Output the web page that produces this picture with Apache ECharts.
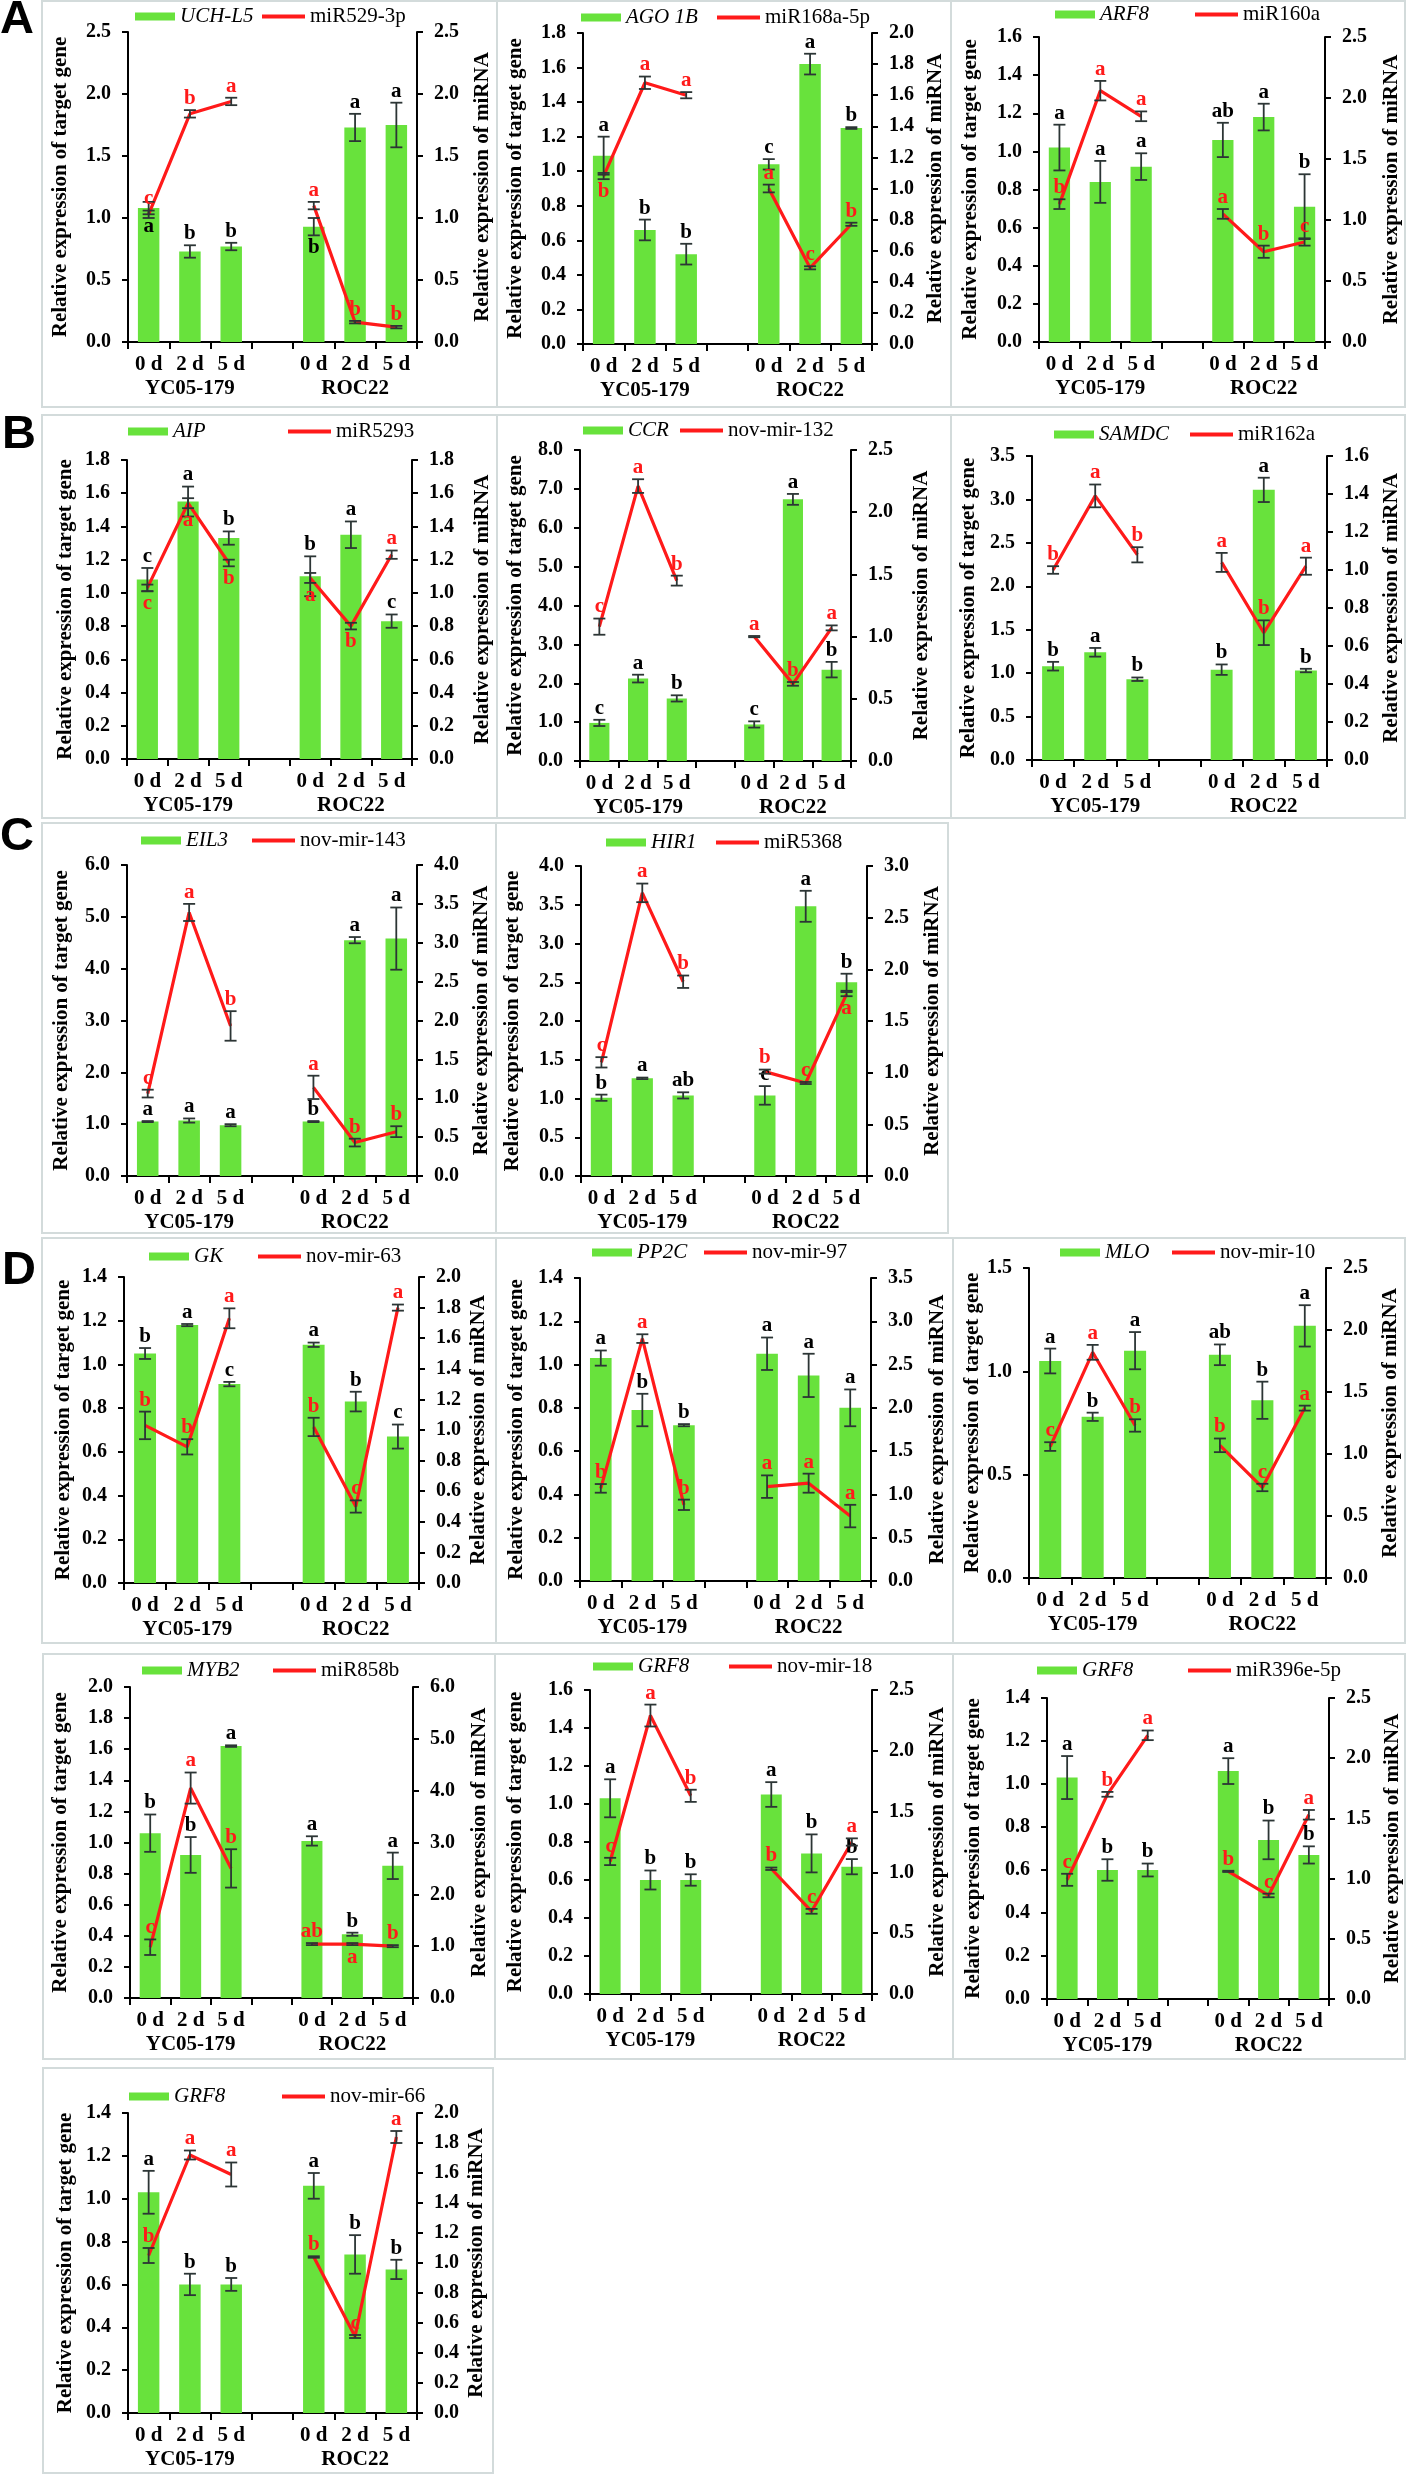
<!DOCTYPE html>
<html><head><meta charset="utf-8">
<script src="https://cdn.jsdelivr.net/npm/echarts@6/dist/echarts.min.js"></script>
<style>html,body{margin:0;padding:0;background:#fff}#c{width:1408px;height:2475px}</style>
</head><body><div id="c"></div>
<script>
// ---------------- DATA ----------------
const days = ['0 d', '2 d', '5 d'];
const cultivars = ['YC05-179', 'ROC22'];
const titleGene = 'Relative expression of target gene';
const titleMiR = 'Relative expression of miRNA';

// scale arrays: [left max, left step, right max, right step]
// A1
const A1_names = ['UCH-L5', 'miR529-3p'];
const A1_barVal = [1.08, 0.73, 0.77, 0.93, 1.73, 1.75];
const A1_barSd = [0.05, 0.05, 0.03, 0.07, 0.11, 0.18];
const A1_barSig = ['a', 'b', 'b', 'b', 'a', 'a'];
const A1_mirVal = [1.03, 1.84, 1.94, 1.10, 0.16, 0.12];
const A1_mirSd = [0.03, 0.03, 0.03, 0.03, 0.01, 0.01];
const A1_mirSig = ['c', 'b', 'a', 'a', 'b', 'b'];
const A1_scale = [2.5, 0.5, 2.5, 0.5];
// A2
const A2_names = ['AGO 1B', 'miR168a-5p'];
const A2_barVal = [1.09, 0.66, 0.52, 1.04, 1.62, 1.25];
const A2_barSd = [0.11, 0.06, 0.06, 0.03, 0.06, 0.005];
const A2_barSig = ['a', 'b', 'b', 'c', 'a', 'b'];
const A2_mirVal = [1.08, 1.68, 1.60, 1.00, 0.49, 0.77];
const A2_mirSd = [0.02, 0.04, 0.02, 0.025, 0.01, 0.01];
const A2_mirSig = ['b', 'a', 'a', 'a', 'c', 'b'];
const A2_scale = [1.8, 0.2, 2.0, 0.2];
// A3
const A3_names = ['ARF8', 'miR160a'];
const A3_barVal = [1.02, 0.84, 0.92, 1.06, 1.18, 0.71];
const A3_barSd = [0.12, 0.11, 0.07, 0.09, 0.07, 0.17];
const A3_barSig = ['a', 'a', 'a', 'ab', 'a', 'b'];
const A3_mirVal = [1.13, 2.06, 1.85, 1.05, 0.74, 0.82];
const A3_mirSd = [0.04, 0.08, 0.04, 0.04, 0.05, 0.03];
const A3_mirSig = ['b', 'a', 'a', 'a', 'b', 'c'];
const A3_scale = [1.6, 0.2, 2.5, 0.5];
// B1
const B1_names = ['AIP', 'miR5293'];
const B1_barVal = [1.08, 1.55, 1.33, 1.10, 1.35, 0.83];
const B1_barSd = [0.07, 0.09, 0.04, 0.12, 0.08, 0.04];
const B1_barSig = ['c', 'a', 'b', 'b', 'a', 'c'];
const B1_mirVal = [1.03, 1.54, 1.18, 1.09, 0.80, 1.23];
const B1_mirSd = [0.02, 0.03, 0.02, 0.03, 0.02, 0.025];
const B1_mirSig = ['c', 'a', 'b', 'a', 'b', 'a'];
const B1_scale = [1.8, 0.2, 1.8, 0.2];
// B2
const B2_names = ['CCR', 'nov-mir-132'];
const B2_barVal = [0.98, 2.12, 1.61, 0.94, 6.73, 2.35];
const B2_barSd = [0.08, 0.10, 0.08, 0.08, 0.14, 0.20];
const B2_barSig = ['c', 'a', 'b', 'c', 'a', 'b'];
const B2_mirVal = [1.08, 2.21, 1.45, 1.00, 0.62, 1.07];
const B2_mirSd = [0.065, 0.055, 0.04, 0.005, 0.015, 0.02];
const B2_mirSig = ['c', 'a', 'b', 'a', 'b', 'a'];
const B2_scale = [8, 1, 2.5, 0.5];
// B3
const B3_names = ['SAMDC', 'miR162a'];
const B3_barVal = [1.08, 1.24, 0.93, 1.04, 3.11, 1.03];
const B3_barSd = [0.05, 0.05, 0.02, 0.06, 0.14, 0.02];
const B3_barSig = ['b', 'a', 'b', 'b', 'a', 'b'];
const B3_mirVal = [1.00, 1.39, 1.08, 1.04, 0.67, 1.02];
const B3_mirSd = [0.02, 0.06, 0.04, 0.05, 0.065, 0.045];
const B3_mirSig = ['b', 'a', 'b', 'a', 'b', 'a'];
const B3_scale = [3.5, 0.5, 1.6, 0.2];
// C1
const C1_names = ['EIL3', 'nov-mir-143'];
const C1_barVal = [1.05, 1.07, 0.98, 1.05, 4.55, 4.58];
const C1_barSd = [0.01, 0.04, 0.02, 0.01, 0.06, 0.60];
const C1_barSig = ['a', 'a', 'a', 'b', 'a', 'a'];
const C1_mirVal = [1.06, 3.39, 1.93, 1.14, 0.43, 0.57];
const C1_mirSd = [0.05, 0.11, 0.19, 0.15, 0.05, 0.07];
const C1_mirSig = ['c', 'a', 'b', 'a', 'b', 'b'];
const C1_scale = [6, 1, 4, 0.5];
// C2
const C2_names = ['HIR1', 'miR5368'];
const C2_barVal = [1.01, 1.26, 1.04, 1.04, 3.48, 2.50];
const C2_barSd = [0.04, 0.01, 0.04, 0.12, 0.20, 0.11];
const C2_barSig = ['b', 'a', 'ab', 'c', 'a', 'b'];
const C2_mirVal = [1.10, 2.74, 1.88, 1.01, 0.90, 1.76];
const C2_mirSd = [0.05, 0.09, 0.06, 0.02, 0.01, 0.02];
const C2_mirSig = ['c', 'a', 'b', 'b', 'c', 'a'];
const C2_scale = [4, 0.5, 3, 0.5];
// D1
const D1_names = ['GK', 'nov-mir-63'];
const D1_barVal = [1.05, 1.18, 0.91, 1.09, 0.83, 0.67];
const D1_barSd = [0.025, 0.005, 0.01, 0.01, 0.045, 0.055];
const D1_barSig = ['b', 'a', 'c', 'a', 'b', 'c'];
const D1_mirVal = [1.03, 0.89, 1.73, 1.02, 0.50, 1.80];
const D1_mirSd = [0.09, 0.05, 0.065, 0.06, 0.04, 0.02];
const D1_mirSig = ['b', 'b', 'a', 'b', 'c', 'a'];
const D1_scale = [1.4, 0.2, 2.0, 0.2];
// D2
const D2_names = ['PP2C', 'nov-mir-97'];
const D2_barVal = [1.03, 0.79, 0.72, 1.05, 0.95, 0.80];
const D2_barSd = [0.035, 0.075, 0.005, 0.075, 0.10, 0.085];
const D2_barSig = ['a', 'b', 'b', 'a', 'a', 'a'];
const D2_mirVal = [1.07, 2.80, 0.88, 1.09, 1.13, 0.75];
const D2_mirSd = [0.05, 0.05, 0.06, 0.13, 0.11, 0.13];
const D2_mirSig = ['b', 'a', 'b', 'a', 'a', 'a'];
const D2_scale = [1.4, 0.2, 3.5, 0.5];
// D3
const D3_names = ['MLO', 'nov-mir-10'];
const D3_barVal = [1.05, 0.78, 1.10, 1.08, 0.86, 1.22];
const D3_barSd = [0.06, 0.02, 0.09, 0.05, 0.09, 0.10];
const D3_barSig = ['a', 'b', 'a', 'ab', 'b', 'a'];
const D3_mirVal = [1.06, 1.82, 1.23, 1.07, 0.73, 1.37];
const D3_mirSd = [0.035, 0.06, 0.05, 0.055, 0.03, 0.02];
const D3_mirSig = ['c', 'a', 'b', 'b', 'c', 'a'];
const D3_scale = [1.5, 0.5, 2.5, 0.5];
// D4
const D4_names = ['MYB2', 'miR858b'];
const D4_barVal = [1.06, 0.92, 1.62, 1.01, 0.41, 0.85];
const D4_barSd = [0.12, 0.115, 0.005, 0.03, 0.01, 0.085];
const D4_barSig = ['b', 'b', 'a', 'a', 'b', 'a'];
const D4_mirVal = [0.98, 4.05, 2.50, 1.04, 1.04, 1.00];
const D4_mirSd = [0.15, 0.30, 0.37, 0.02, 0.02, 0.02];
const D4_mirSig = ['c', 'a', 'b', 'ab', 'a', 'b'];
const D4_scale = [2.0, 0.2, 6, 1];
// D5
const D5_names = ['GRF8', 'nov-mir-18'];
const D5_barVal = [1.03, 0.60, 0.60, 1.05, 0.74, 0.67];
const D5_barSd = [0.10, 0.05, 0.03, 0.065, 0.10, 0.04];
const D5_barSig = ['a', 'b', 'b', 'a', 'b', 'b'];
const D5_mirVal = [1.09, 2.29, 1.63, 1.03, 0.68, 1.25];
const D5_mirSd = [0.03, 0.09, 0.05, 0.01, 0.02, 0.03];
const D5_mirSig = ['c', 'a', 'b', 'b', 'c', 'a'];
const D5_scale = [1.6, 0.2, 2.5, 0.5];
// D6
const D6_names = ['GRF8', 'miR396e-5p'];
const D6_barVal = [1.03, 0.60, 0.60, 1.06, 0.74, 0.67];
const D6_barSd = [0.10, 0.05, 0.03, 0.06, 0.09, 0.04];
const D6_barSig = ['a', 'b', 'b', 'a', 'b', 'b'];
const D6_mirVal = [0.99, 1.70, 2.19, 1.06, 0.86, 1.53];
const D6_mirSd = [0.05, 0.02, 0.04, 0.005, 0.015, 0.04];
const D6_mirSig = ['c', 'b', 'a', 'b', 'c', 'a'];
const D6_scale = [1.4, 0.2, 2.5, 0.5];
// D7
const D7_names = ['GRF8', 'nov-mir-66'];
const D7_barVal = [1.03, 0.60, 0.60, 1.06, 0.74, 0.67];
const D7_barSd = [0.10, 0.05, 0.03, 0.06, 0.09, 0.045];
const D7_barSig = ['a', 'b', 'b', 'a', 'b', 'b'];
const D7_mirVal = [1.05, 1.72, 1.59, 1.04, 0.51, 1.84];
const D7_mirSd = [0.05, 0.03, 0.08, 0.005, 0.01, 0.04];
const D7_mirSig = ['b', 'a', 'a', 'b', 'c', 'a'];
const D7_scale = [1.4, 0.2, 2.0, 0.2];

// ---------------- LAYOUT (positions / styles only) ----------------
const layout = {
  A1: {grid: [128, 32, 289, 310], box: [42, 1, 455, 406], legBar: [135, 17], legLine: [262, 17], gaps: [57, 55], barBelow: [0, 3], mirBelow: []},
  A2: {grid: [583, 33, 289, 311], box: [497, 1, 454, 406], legBar: [581, 18], legLine: [717, 18], gaps: [57, 53], barBelow: [], mirBelow: [0]},
  A3: {grid: [1039, 37, 286, 305], box: [951, 1, 454, 406], legBar: [1055, 15], legLine: [1195, 15], gaps: [58, 56], barBelow: [], mirBelow: []},
  B1: {grid: [127, 460, 285, 299], box: [42, 415, 455, 403], legBar: [128, 432], legLine: [288, 432], gaps: [51, 60], barBelow: [], mirBelow: [0, 1, 2, 3, 4]},
  B2: {grid: [580, 450, 271, 311], box: [497, 415, 454, 403], legBar: [583, 431], legLine: [680, 431], gaps: [54, 60], barBelow: [], mirBelow: []},
  B3: {grid: [1032, 456, 295, 304], box: [951, 415, 454, 403], legBar: [1054, 435], legLine: [1190, 435], gaps: [53, 54], barBelow: [], mirBelow: []},
  C1: {grid: [127, 865, 290, 311], box: [42, 823, 454, 410], legBar: [141, 841], legLine: [252, 841], gaps: [55, 54], barBelow: [], mirBelow: []},
  C2: {grid: [581, 866, 286, 310], box: [496, 823, 452, 410], legBar: [606, 843], legLine: [716, 843], gaps: [58, 55], barBelow: [], mirBelow: [5]},
  D1: {grid: [124, 1277, 295, 306], box: [42, 1238, 454, 405], legBar: [149, 1257], legLine: [258, 1257], gaps: [50, 49], barBelow: [], mirBelow: []},
  D2: {grid: [580, 1278, 291, 303], box: [496, 1238, 457, 405], legBar: [592, 1253], legLine: [704, 1253], gaps: [53, 56], barBelow: [], mirBelow: []},
  D3: {grid: [1029, 1268, 297, 310], box: [953, 1238, 452, 405], legBar: [1060, 1253], legLine: [1172, 1253], gaps: [46, 54], barBelow: [], mirBelow: []},
  D4: {grid: [130, 1687, 283, 311], box: [43, 1654, 452, 405], legBar: [142, 1671], legLine: [273, 1671], gaps: [59, 56], barBelow: [], mirBelow: [4]},
  D5: {grid: [590, 1690, 282, 304], box: [495, 1654, 458, 405], legBar: [593, 1667], legLine: [729, 1667], gaps: [64, 55], barBelow: [], mirBelow: []},
  D6: {grid: [1047, 1698, 282, 301], box: [953, 1654, 452, 405], legBar: [1037, 1671], legLine: [1188, 1671], gaps: [63, 53], barBelow: [], mirBelow: []},
  D7: {grid: [128, 2113, 289, 300], box: [43, 2068, 450, 405], legBar: [129, 2097], legLine: [282, 2097], gaps: [52, 49], barBelow: [], mirBelow: []}
};
const panelLetters = [['A', 0, -3], ['B', 2, 412], ['C', 0, 814], ['D', 2, 1248]];

const panels = [
  ['A1', A1_names, A1_barVal, A1_barSd, A1_barSig, A1_mirVal, A1_mirSd, A1_mirSig, A1_scale],
  ['A2', A2_names, A2_barVal, A2_barSd, A2_barSig, A2_mirVal, A2_mirSd, A2_mirSig, A2_scale],
  ['A3', A3_names, A3_barVal, A3_barSd, A3_barSig, A3_mirVal, A3_mirSd, A3_mirSig, A3_scale],
  ['B1', B1_names, B1_barVal, B1_barSd, B1_barSig, B1_mirVal, B1_mirSd, B1_mirSig, B1_scale],
  ['B2', B2_names, B2_barVal, B2_barSd, B2_barSig, B2_mirVal, B2_mirSd, B2_mirSig, B2_scale],
  ['B3', B3_names, B3_barVal, B3_barSd, B3_barSig, B3_mirVal, B3_mirSd, B3_mirSig, B3_scale],
  ['C1', C1_names, C1_barVal, C1_barSd, C1_barSig, C1_mirVal, C1_mirSd, C1_mirSig, C1_scale],
  ['C2', C2_names, C2_barVal, C2_barSd, C2_barSig, C2_mirVal, C2_mirSd, C2_mirSig, C2_scale],
  ['D1', D1_names, D1_barVal, D1_barSd, D1_barSig, D1_mirVal, D1_mirSd, D1_mirSig, D1_scale],
  ['D2', D2_names, D2_barVal, D2_barSd, D2_barSig, D2_mirVal, D2_mirSd, D2_mirSig, D2_scale],
  ['D3', D3_names, D3_barVal, D3_barSd, D3_barSig, D3_mirVal, D3_mirSd, D3_mirSig, D3_scale],
  ['D4', D4_names, D4_barVal, D4_barSd, D4_barSig, D4_mirVal, D4_mirSd, D4_mirSig, D4_scale],
  ['D5', D5_names, D5_barVal, D5_barSd, D5_barSig, D5_mirVal, D5_mirSd, D5_mirSig, D5_scale],
  ['D6', D6_names, D6_barVal, D6_barSd, D6_barSig, D6_mirVal, D6_mirSd, D6_mirSig, D6_scale],
  ['D7', D7_names, D7_barVal, D7_barSd, D7_barSig, D7_mirVal, D7_mirSd, D7_mirSig, D7_scale]
];

// ---------------- BUILD ----------------
const SERIF = '"Liberation Serif", "Times New Roman", serif';
const GREEN = '#68e23c', RED = '#ff1a1a', ERR = '#2c3535', BOX = '#d3dbdb';
const slotOf = i => (i < 3 ? i : i + 1);
const cats = ['s0', 's1', 's2', 's3', 's4', 's5', 's6'];
function catLabel(v, idx) {
  if (idx === 3) return '';
  const d = days[idx < 3 ? idx : idx - 4];
  if (idx === 1) return d + '\n' + cultivars[0];
  if (idx === 5) return d + '\n' + cultivars[1];
  return d;
}
function toSlots(arr) {
  return [arr[0], arr[1], arr[2], '-', arr[3], arr[4], arr[5]];
}
function makeErrRender(sig, below, color) {
  return function (params, api) {
    const x = api.value(0), v = api.value(1), e = api.value(2);
    const t = api.coord([x, v + e]);
    const b = api.coord([x, v - e]);
    const c = 6;
    const st = {stroke: ERR, lineWidth: 1.8};
    const idx = params.dataIndex;
    const isBelow = below.indexOf(idx) >= 0;
    return {
      type: 'group',
      children: [
        {type: 'line', shape: {x1: t[0], y1: t[1], x2: b[0], y2: b[1]}, style: st},
        {type: 'line', shape: {x1: t[0] - c, y1: t[1], x2: t[0] + c, y2: t[1]}, style: st},
        {type: 'line', shape: {x1: b[0] - c, y1: b[1], x2: b[0] + c, y2: b[1]}, style: st},
        {type: 'text', x: t[0], y: isBelow ? b[1] + 2 : t[1] - 1,
          style: {text: sig[idx], fill: color, font: 'bold 21px ' + SERIF,
            align: 'center', verticalAlign: isBelow ? 'top' : 'bottom',
            textAlign: 'center', textVerticalAlign: isBelow ? 'top' : 'bottom'}}
      ]
    };
  };
}

const option = {
  animation: false, backgroundColor: '#ffffff',
  grid: [], xAxis: [], yAxis: [], series: [], legend: [], graphic: []
};

panels.forEach((p, i) => {
  const [id, names, barVal, barSd, barSig, mirVal, mirSd, mirSig, scale] = p;
  const L = layout[id];
  option.grid.push({left: L.grid[0], top: L.grid[1], width: L.grid[2], height: L.grid[3], containLabel: false});
  option.xAxis.push({
    type: 'category', gridIndex: i, data: cats,
    axisLine: {show: true, onZero: false, lineStyle: {color: '#000', width: 2}},
    axisTick: {show: true, length: 7, lineStyle: {color: '#000', width: 2}},
    axisLabel: {interval: 0, margin: 11, color: '#000', fontFamily: SERIF, fontWeight: 'bold',
      fontSize: 21, lineHeight: 24, formatter: catLabel},
    splitLine: {show: false}
  });
  const yCommon = {
    type: 'value', gridIndex: i, min: 0,
    axisLine: {show: true, lineStyle: {color: '#000', width: 2}},
    axisTick: {show: true, length: 6, lineStyle: {color: '#000', width: 2}},
    axisLabel: {color: '#000', fontFamily: SERIF, fontWeight: 'bold', fontSize: 20, margin: 17,
      formatter: v => v.toFixed(1)},
    splitLine: {show: false},
    nameLocation: 'middle', nameRotate: 90,
    nameTextStyle: {color: '#000', fontFamily: SERIF, fontWeight: 'bold', fontSize: 21}
  };
  option.yAxis.push(Object.assign({}, yCommon, {position: 'left', max: scale[0], interval: scale[1], name: titleGene, nameGap: L.gaps[0]}));
  option.yAxis.push(Object.assign({}, yCommon, {position: 'right', max: scale[2], interval: scale[3], name: titleMiR, nameGap: L.gaps[1]}));
  const yl = 2 * i, yr = 2 * i + 1;
  option.series.push({
    type: 'bar', name: names[0], xAxisIndex: i, yAxisIndex: yl, data: toSlots(barVal),
    barWidth: '52%', itemStyle: {color: GREEN}, z: 2, silent: true
  });
  option.series.push({
    type: 'line', name: names[1], xAxisIndex: i, yAxisIndex: yr, data: toSlots(mirVal),
    symbol: 'none', showSymbol: false, connectNulls: false, color: RED,
    lineStyle: {color: RED, width: 3.2}, itemStyle: {color: RED}, z: 3, silent: true
  });
  option.series.push({
    type: 'custom', name: 'errBar' + id, xAxisIndex: i, yAxisIndex: yl, clip: false, z: 4, silent: true,
    data: barVal.map((v, k) => [slotOf(k), v, barSd[k]]),
    renderItem: makeErrRender(barSig, L.barBelow, '#000')
  });
  option.series.push({
    type: 'custom', name: 'errMir' + id, xAxisIndex: i, yAxisIndex: yr, clip: false, z: 5, silent: true,
    data: mirVal.map((v, k) => [slotOf(k), v, mirSd[k]]),
    renderItem: makeErrRender(mirSig, L.mirBelow, RED)
  });
  const legText = {fontFamily: SERIF, fontSize: 21, color: '#000'};
  option.legend.push({
    data: [{name: names[0], textStyle: {fontStyle: 'italic'}}], left: L.legBar[0], top: L.legBar[1] - 11,
    icon: 'rect', itemWidth: 40, itemHeight: 8, padding: 0, selectedMode: false, textStyle: legText
  });
  option.legend.push({
    data: [names[1]], left: L.legLine[0], top: L.legLine[1] - 11,
    icon: 'rect', itemWidth: 43, itemHeight: 4, padding: 0, selectedMode: false, textStyle: legText
  });
  option.graphic.push({
    type: 'rect', silent: true, z: -10,
    shape: {x: L.box[0], y: L.box[1], width: L.box[2], height: L.box[3]},
    style: {fill: 'none', stroke: BOX, lineWidth: 2}
  });
});
panelLetters.forEach(([t, x, y]) => {
  option.graphic.push({
    type: 'text', x: x, y: y, silent: true,
    style: {text: t, fill: '#000', font: 'bold 47px "Liberation Sans", Arial, sans-serif',
      align: 'left', verticalAlign: 'top', textAlign: 'left', textVerticalAlign: 'top'}
  });
});

const chart = echarts.init(document.getElementById('c'), null, {renderer: 'canvas', width: 1408, height: 2475});
chart.setOption(option);
</script>
</body></html>
